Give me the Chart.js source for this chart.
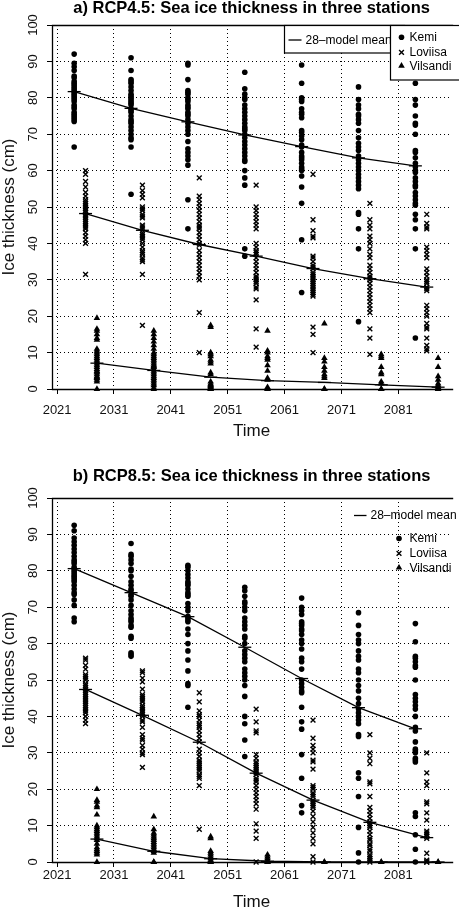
<!DOCTYPE html>
<html><head><meta charset="utf-8">
<script src="https://cdn.jsdelivr.net/npm/chart.js@4"></script>
<style>html,body{margin:0;padding:0;background:#fff;}canvas{display:block;}</style>
</head><body>
<canvas id="c1" width="459" height="445"></canvas>
<canvas id="c2" width="459" height="466"></canvas>
<script>
// ---------- data ----------
const kemiYears = [2024, 2034, 2044, 2054, 2064, 2074, 2084];
const loviisaYears = [2026, 2036, 2046, 2056, 2066, 2076, 2086];
const vilsandiYears = [2028, 2038, 2048, 2058, 2068, 2078, 2088];
const xTicks = [2021, 2031, 2041, 2051, 2061, 2071, 2081];
const yTicks = [0, 10, 20, 30, 40, 50, 60, 70, 80, 90, 100];

// RCP4.5
const kemi45 = [
 [92,89.5,88.5,87.5,86,85.5,84.5,84,83.5,83,82.5,82,81.5,81,80.5,80,79.5,79,78,77.5,77,76,75.5,75,74.5,74,73.5,66.5],
 [91,87.5,85,84.5,84,83,82,81,80.5,80,79.5,79,78.5,78,77,76.5,76,75,74,73.5,73,72,71,70,69,68.5,66.5,53.5],
 [89.5,89,85,82,81.5,81,80,79.5,79,78,77.5,77,76,75.5,75,74,73,72,71,70,68,66,65,64,63,61.5,52,44],
 [87,82.5,81,80,79.5,78,77,76,75,74,73,72,71.5,71,70,69,68,67,66,65,64,63,62.5,60,58,56,38.5,36.5],
 [89,84,80,79.5,79,77,76,75.5,74.5,71,70.5,69.5,68.5,67,66.5,65,64,63.5,63,62,61,60.5,60,58.5,55.5,51,41,26.5],
 [83,79.5,78,77,75.5,75,74,73,71,69,67.5,66.5,65.5,64,63,62,61,60,59,58,57,56,55,48.5,48,44,38.5,18.5],
 [84,79.5,78,75,73,72.5,70,65.5,65,63.5,62,61,60,59.5,58,57,56,55.5,54,53,52,51,50.5,48,46.5,44,38.5,14]
];
const loviisa45 = [
 [60,59,57,55.5,54,53,52,51.5,51,50.5,50,49.5,49,48.5,48,47.5,47,46.5,46,45.5,45,44.5,44,43,42,41,40,31.5],
 [56,54.5,53.5,52.5,50,49.5,49,48,47.5,47,45,44.5,44,43,42.5,42,41.5,41,40,39,38,37.5,37,36,35.5,35,31.5,17.5],
 [58,53,52,51,50,49,48,47,46,45,44.5,44,43,42,41,40,39.5,38,37,36,35,34,33,32,31,30,21,10],
 [56,50,49,48,47,46,45,44,40,39,38,37.5,37,36,35,34,33,32,31,30.5,30,29.5,29,28,27.5,24.5,16.5,11.5],
 [59,46.5,43.5,42,41.5,36.5,36,35,34,33.5,33,32,31.5,31,30.5,30,29.5,29,28.5,28,27.5,27,26.5,26,25.5,17,15,10],
 [51,46.5,45,44,42,41,40,38.5,37,36,34,33,32,31,30.5,30,29,28,27,26,25,24,23,22,21,16.5,14,9.5],
 [48,45.5,44.5,44,39,38,37,36,33,32,31,30,29.5,29,28,27.5,27,23,22,21,20,18,17,16.5,14,12,11,10.5]
];
const vilsandi45 = [
 [19.5,16.5,16,15,14,13.5,11,10.5,10,9.5,9,8.5,8,7.5,7,6.5,6,5.5,5,4.8,4.5,4,3.5,3.2,3,2.5,2,0],
 [16,15,14,13,12,11,10,9.5,9,8.5,8,7.5,7,6.5,6.2,6,5.5,5,4.5,4,3.5,3,2.5,2,1.5,1,0.3,0],
 [17.5,17,10,9.5,9,8,7.5,7,4.5,4,2,1.5,1.2,1,0.8,0.5,0.3,0.2,0,0],
 [16,10.5,10,9,8.5,8,6.5,5,3,2.5,0.5,0,0],
 [18,8.5,7.5,6,5,4,3.5,3,0,0],
 [9.5,9,8.5,6,4.5,4,2,1.5,0,0],
 [8.5,6,3.5,2.5,1.5,1,0.5,0,0]
];
const kemiMean45 = [81.7, 77.1, 73.4, 69.8, 66.6, 63.5, 61.3];
const loviisaMean45 = [48.2, 43.6, 39.7, 36.5, 33.1, 30.3, 28.0];
const vilsandiMean45 = [7.1, 5.1, 3.25, 2.3, 1.8, 1.15, 0.5];

// RCP8.5
const kemi85 = [
 [92.5,91,89,88,87,86,85,84,83,82.5,82,81,80.5,80,79.5,79,78.5,78,77.5,77,76,75,74,73.5,72,70.5,67,66],
 [87.5,84.5,84,83,82,80.5,80,78.5,77,76,75,74.5,73.5,73,72,70.5,69,68,67,66.5,66,65,64.5,62,61.5,57.5,57,56.5],
 [81.5,81,80,79,78,77,76.5,76,75,74,73.5,73,71,70,69,67.5,67,66.5,66,64,62.5,60,58,55.5,52.5,49,48.5,42.5],
 [75.5,74.5,73,71.5,71,70,69,67,66,65,64,62,61.5,60,58,57,56,55,53,52,51,50,48.5,45.5,40,38,33.5,29],
 [72.5,70,69,68,66,65.5,65,64,63.5,62.5,61,60,58.5,56,55,53,50,49,48,47,46.5,42.5,38.5,36.5,29.5,23,15.5,13.5],
 [68.5,65,62.5,61,60,58,56.5,55.5,53,52,50,48.5,47,45,43.5,42,41,40,39,38,35,34.5,24.5,23,18,9.5,2.5,0],
 [65.5,60.5,56.5,56,55,54,53.5,50,46,45,44,43,42,40,37,36,33,31,30.5,30,28.5,28,27.5,13.5,12.5,7.5,3.5,0]
];
const loviisa85 = [
 [56,55.5,54,53,51.5,51,50.5,50,49,48.5,48,47.5,47,46.5,46,45.5,45,44.5,44,43.5,43,42.5,42,41.5,41,40,39,38],
 [52.5,52,50.5,49.5,47.5,46,45.5,45,44.5,44,43,42.5,42,41.5,41,40.5,40,39,38.5,37,35,34,33.5,32,31,30,29.5,26],
 [46.5,44,41.5,40.5,40,39,38,37.5,37,36,35,34,33,31,30,29,28,27.5,27,26.5,26,25.5,25,24,23.5,23,21,9],
 [42,38.5,36,35.5,29.5,28.5,27.5,27,26.5,26,25.5,25,24.5,24,23,22.5,22,21,20,19,18,17,16,14.5,10.5,8.5,6.5,0],
 [39,34,32,31,30,28,27.5,25.5,21,20.5,20,19,18.5,18,17,16.5,16,15.5,15,14,12.5,11,9.5,8,6.5,5,1.5,0],
 [35,30,28.5,27,22,21.5,18,15,14,13,12,11,10.5,10,9.5,8.5,7.5,6.5,6,5,4.5,3.5,3,2,1.5,1,0.5,0],
 [30,24.5,22,21,16.5,16,13.5,11.5,8.5,8,7.5,7,6.5,2.4,0.5,0,0]
];
const vilsandi85 = [
 [20,17,16.5,15.5,15,13,10,9.5,9,8.5,8,7.5,7,6.5,6,5,4,3.5,3,2.5,2,0],
 [12.5,9,8,7.5,7,6.5,6,5.5,5,4.5,4,3.5,3,2.5,0,0],
 [7,6.5,3,2.5,2,1.5,1,0.5,0,0],
 [2,1.5,1,0.5,0,0],
 [0,0],
 [0,0],
 [0,0]
];
const kemiMean85 = [80.6, 74.0, 67.4, 59.0, 50.4, 42.4, 36.6];
const loviisaMean85 = [47.4, 40.3, 32.9, 24.4, 17.0, 10.9, 6.7];
const vilsandiMean85 = [6.3, 2.95, 0.9, 0.2, 0, 0, 0];

const stationNames = ['Kemi', 'Loviisa', 'Vilsandi'];
const meanLabel = '28\u2013model mean';

// ---------- helpers ----------
const FONT = '"Liberation Sans", Arial, Helvetica, sans-serif';
const STYLES = [
  {pointStyle: 'circle', radius: 2.8, bw: 0},
  {pointStyle: 'crossRot', radius: 3.4, bw: 1.4},
  {pointStyle: 'triangle', radius: 3.8, bw: 0}
];
function pts(years, cols) {
  const out = [];
  cols.forEach((col, i) => col.forEach(v => out.push({x: years[i], y: v})));
  return out;
}
function means(years, m) { return m.map((v, i) => ({x: years[i], y: v})); }

function buildDatasets(groups) {
  const ds = [];
  groups.forEach((g, k) => {
    const st = STYLES[k];
    ds.push({
      label: stationNames[k], data: pts(g.years, g.values), order: 2, clip: false,
      pointStyle: st.pointStyle, pointRadius: st.radius, pointHoverRadius: st.radius,
      pointBackgroundColor: '#000', pointBorderColor: '#000', pointBorderWidth: st.bw,
      showLine: false
    });
  });
  groups.forEach((g, k) => {
    ds.push({
      label: meanLabel, data: means(g.years, g.mean), order: 1, clip: false,
      showLine: true, borderColor: '#000', borderWidth: 1.3, tension: 0,
      pointStyle: 'line', pointRadius: 6.5, pointHoverRadius: 6.5,
      pointBorderColor: '#000', pointBorderWidth: 1.3, pointBackgroundColor: '#000'
    });
  });
  return ds;
}

function drawMarker(ctx, k, x, y) {
  const st = STYLES[k];
  ctx.save();
  ctx.fillStyle = '#000'; ctx.strokeStyle = '#000'; ctx.lineWidth = st.bw || 1;
  Chart.helpers.drawPoint(ctx, {pointStyle: st.pointStyle, radius: st.radius, rotation: 0, borderWidth: st.bw}, x, y);
  ctx.restore();
}

const panelPlugin = {
  id: 'panel',
  beforeDatasetsDraw(chart) {
    const {ctx, chartArea: a, scales: {x, y}} = chart;
    const al = p => Math.round(p - 0.5) + 0.5;
    ctx.save();
    ctx.strokeStyle = '#000'; ctx.lineWidth = 1; ctx.setLineDash([1, 3]);
    xTicks.forEach(v => {
      const px = al(x.getPixelForValue(v));
      ctx.beginPath(); ctx.moveTo(px, a.top); ctx.lineTo(px, a.bottom); ctx.stroke();
    });
    yTicks.forEach(v => {
      const py = al(y.getPixelForValue(v));
      ctx.beginPath(); ctx.moveTo(a.left, py); ctx.lineTo(a.right, py); ctx.stroke();
    });
    ctx.setLineDash([]); ctx.lineWidth = 1.3;
    ctx.beginPath();
    ctx.moveTo(a.right + 2, al(a.top)); ctx.lineTo(al(a.left), al(a.top));
    ctx.lineTo(al(a.left), al(a.bottom)); ctx.lineTo(a.right + 2, al(a.bottom));
    ctx.stroke();
    ctx.restore();
  },
  afterDraw(chart) {
    const o = chart.options.plugins.panel;
    const {ctx, chartArea: a, scales: {y}} = chart;
    ctx.save();
    // rotated y tick labels (R style), placed by the library's y scale
    ctx.fillStyle = '#111';
    ctx.font = '13px ' + FONT;
    ctx.textAlign = 'center'; ctx.textBaseline = 'middle';
    yTicks.forEach(v => {
      ctx.save();
      ctx.translate(33, y.getPixelForValue(v));
      ctx.rotate(-Math.PI / 2);
      ctx.fillText(String(v), 0, 0);
      ctx.restore();
    });
    // title
    ctx.fillStyle = '#000';
    ctx.font = 'bold 16.5px ' + FONT;
    ctx.fillText(o.title, (a.left + a.right) / 2, o.titleY);
    // legend
    const L = o.legend;
    ctx.font = '12px ' + FONT;
    ctx.textAlign = 'left';
    if (L.box1) {
      ctx.fillStyle = '#fff'; ctx.fillRect(L.box1[0], L.box1[1], L.box1[2], L.box1[3]);
      ctx.strokeStyle = '#000'; ctx.lineWidth = 1.2;
      ctx.strokeRect(L.box1[0] + 0.5, L.box1[1] + 0.5, L.box1[2], L.box1[3]);
    }
    ctx.strokeStyle = '#000'; ctx.lineWidth = 1.3;
    ctx.beginPath(); ctx.moveTo(L.line[0], L.line[2]); ctx.lineTo(L.line[1], L.line[2]); ctx.stroke();
    ctx.fillStyle = '#000';
    ctx.fillText(meanLabel, L.line[3], L.line[2] + 0.5);
    if (L.box2) {
      ctx.fillStyle = '#fff'; ctx.fillRect(L.box2[0], L.box2[1], L.box2[2], L.box2[3]);
      ctx.strokeStyle = '#000'; ctx.lineWidth = 1.2;
      ctx.strokeRect(L.box2[0] + 0.5, L.box2[1] + 0.5, L.box2[2], L.box2[3]);
    }
    stationNames.forEach((n, k) => {
      drawMarker(ctx, k, L.mx, L.my[k]);
      ctx.fillStyle = '#000';
      ctx.font = '12px ' + FONT; ctx.textAlign = 'left'; ctx.textBaseline = 'middle';
      ctx.fillText(n, L.tx, L.my[k] + 0.5);
    });
    ctx.restore();
  }
};

function makeChart(id, p) {
  const H = document.getElementById(id).height;
  return new Chart(document.getElementById(id), {
    type: 'scatter',
    data: {datasets: buildDatasets(p.groups)},
    options: {
      responsive: false, animation: false, events: [],
      layout: {padding: {top: p.areaTop, right: 0, bottom: 0, left: 0}},
      plugins: {
        legend: {display: false}, tooltip: {enabled: false}, title: {display: false},
        panel: {title: p.title, titleY: p.titleY, legend: p.legend}
      },
      scales: {
        x: {
          type: 'linear', min: 2020.1, max: 2090.3,
          afterBuildTicks: s => { s.ticks = xTicks.map(v => ({value: v})); },
          afterFit: s => { s.height = H - p.areaBottom; },
          ticks: {color: '#111', font: {family: FONT, size: 13}, padding: p.xPad, maxRotation: 0, autoSkip: false,
                  callback: v => String(v)},
          grid: {display: true, drawOnChartArea: false, drawTicks: true, tickLength: 5, tickColor: '#000', tickWidth: 1, color: '#000'},
          border: {display: false},
          title: {display: true, text: 'Time', color: '#111', font: {family: FONT, size: 17, lineHeight: 1},
                  padding: {top: 0, bottom: p.timePad}}
        },
        y: {
          type: 'linear', min: 0, max: 100,
          afterBuildTicks: s => { s.ticks = yTicks.map(v => ({value: v})); },
          afterFit: s => { s.width = 52; },
          ticks: {display: false},
          grid: {display: true, drawOnChartArea: false, drawTicks: true, tickLength: 5, tickColor: '#000', tickWidth: 1, color: '#000'},
          border: {display: false},
          title: {display: true, text: 'Ice thickness (cm)', color: '#111', font: {family: FONT, size: 17, lineHeight: 1.1},
                  padding: {top: 0, bottom: 0}}
        }
      }
    },
    plugins: [panelPlugin]
  });
}

makeChart('c1', {
  title: 'a) RCP4.5: Sea ice thickness in three stations', titleY: 8.5,
  areaTop: 25, areaBottom: 389, xPad: 9, timePad: 5,
  groups: [
    {years: kemiYears, values: kemi45, mean: kemiMean45},
    {years: loviisaYears, values: loviisa45, mean: loviisaMean45},
    {years: vilsandiYears, values: vilsandi45, mean: vilsandiMean45}
  ],
  legend: {box1: [284, 25, 120, 27.5], box2: [390, 25, 75, 54.5],
           line: [288.5, 301.5, 40, 305.5], mx: 401.5, my: [37.2, 52.3, 65.8], tx: 409.5}
});
makeChart('c2', {
  title: 'b) RCP8.5: Sea ice thickness in three stations', titleY: 31.7,
  areaTop: 53, areaBottom: 417, xPad: 1, timePad: 0,
  groups: [
    {years: kemiYears, values: kemi85, mean: kemiMean85},
    {years: loviisaYears, values: loviisa85, mean: loviisaMean85},
    {years: vilsandiYears, values: vilsandi85, mean: vilsandiMean85}
  ],
  legend: {box1: null, box2: null,
           line: [354, 366.5, 70.5, 370.5], mx: 399, my: [93.5, 108.3, 122.7], tx: 409.5}
});
</script>
</body></html>
